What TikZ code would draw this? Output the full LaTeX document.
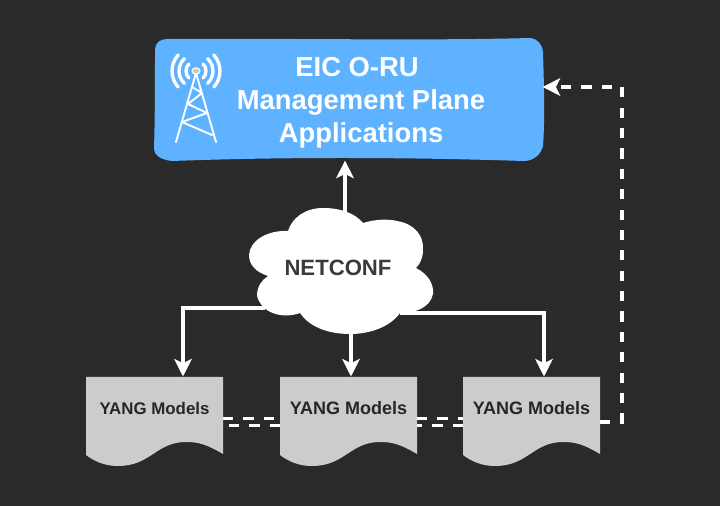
\documentclass[tikz,border=0pt]{standalone}
\usepackage{fontspec}
\setmainfont{Liberation Sans}
\usetikzlibrary{arrows.meta}
\definecolor{backdrop}{HTML}{2A2A2A}
\definecolor{appblue}{HTML}{5FB2FF}
\definecolor{docgray}{HTML}{CCCCCC}
\definecolor{cloudtext}{HTML}{3A3A3A}
\begin{document}
\begin{tikzpicture}[
    x=0.02cm, y=-0.02cm,
    tip/.style={-{Stealth[inset=2.4pt, length=10pt, width=10pt]}},
    link/.style={draw=white, line width=1.8pt, tip},
    dashlink/.style={draw=white, line width=1.8pt, dash pattern=on 5.8pt off 5.8pt},
    apptext/.style={font=\fontsize{15.6}{18.7}\selectfont\bfseries, text=white, align=center},
    hold/.style={inner sep=0pt, minimum width=#1},
    mast/.style={draw=white, line width=1.1pt, line cap=round, line join=round},
    wave/.style={draw=white, line width=1.9pt, line cap=round},
]
\fill[backdrop] (0,0) rectangle (720,506);
\useasboundingbox (0,0) rectangle (720,506);

% application box
\fill[appblue] (167,39) .. controls (280,38) and (420,41) .. (530,38)
    .. controls (538,39) and (542,44) .. (543,52)
    .. controls (544,85) and (545,120) .. (543,146)
    .. controls (541,154) and (534,161) .. (524,161)
    .. controls (400,157) and (280,157) .. (172,161)
    .. controls (162,160) and (154,156) .. (154,148)
    .. controls (155,115) and (155,85) .. (155,50)
    .. controls (155,43) and (160,39) .. (167,39) -- cycle;
\node[hold=388*0.567pt, minimum height=122*0.567pt] (app) at (349,99.5) {};
\node[apptext] (apptitle) at (361,102.5) {EIC O-RU\hspace*{4.5pt}\\Management Plane\\Applications};

% antenna
\draw[mast] (196,73) -- (176,142) (196,73) -- (216,142)
    (192,87) -- (202,93) -- (188,104) -- (207,113) -- (182,122) -- (212,135);
\fill[docgray, draw=white, line width=0.6pt] (196,71) ellipse (4 and 3.2);
\foreach \r/\a in {10/45, 17/47, 24/42} {
    \draw[wave] (196,71) ++(180-\a:\r) arc (180-\a:180+\a:\r);
    \draw[wave] (196,71) ++(-\a:\r) arc (-\a:\a:\r);
}

% cloud
\fill[white] (288,231) .. controls (292,218) and (305,208) .. (323,208)
    .. controls (340,208) and (355,213) .. (363,223)
    .. controls (375,219) and (390,219) .. (397,221)
    .. controls (415,224) and (424,236) .. (423,250)
    .. controls (423,258) and (420,264) .. (416,268)
    .. controls (428,274) and (434,284) .. (433,294)
    .. controls (430,308) and (415,313) .. (400,313)
    .. controls (390,327) and (370,334) .. (350,334)
    .. controls (325,334) and (308,325) .. (300,313)
    .. controls (283,319) and (262,314) .. (257,296)
    .. controls (257,286) and (262,280) .. (268,276)
    .. controls (256,272) and (249,265) .. (249,255)
    .. controls (250,240) and (268,230) .. (288,231) -- cycle;
\node[hold=175*0.567pt, minimum height=122*0.567pt,
      font=\fontsize{12.6}{15}\selectfont\bfseries, text=cloudtext] (netconf) at (338,268) {NETCONF};
\coordinate (netleft) at (265,308);
\coordinate (netright) at (400,313);
\coordinate (netbottom) at (351,334);
\coordinate (nettop) at (345,212);

% documents
\foreach \nm/\lx/\fs in {yangA/86/9.6, yangB/280/10.25, yangC/463/10.25} {
    \fill[docgray] (\lx,377) -- (\lx+137,377) -- (\lx+137,454)
        .. controls (\lx+120,444) and (\lx+112,442) .. (\lx+100,442)
        .. controls (\lx+70,442) and (\lx+65,466) .. (\lx+32,466)
        .. controls (\lx+18,466) and (\lx+8,461) .. (\lx,455) -- cycle;
    \node[hold=137*0.567pt, minimum height=80*0.567pt,
          font=\fontsize{\fs}{12}\selectfont\bfseries, text=black!85] (\nm) at (\lx+68.5,408) {YANG Models};
}

% links
\coordinate (upper) at (0,418.7);
\coordinate (lower) at (0,425.7);
\coordinate (feedback) at (622,422);
\coordinate (turn) at (622,87);
\draw[link] (nettop) -- (app.south -| nettop);
\draw[link] (netleft) -- (183,308) -- (183,376.5);
\draw[link] (netbottom) -- (351,376.5);
\draw[link] (netright) -- (544,313) -- (544,376.5);
\draw[dashlink] (yangA.east |- upper) -- (yangB.west |- upper);
\draw[dashlink] (yangB.west |- lower) -- (yangA.east |- lower);
\draw[dashlink] (yangB.east |- upper) -- (yangC.west |- upper);
\draw[dashlink] (yangC.west |- lower) -- (yangB.east |- lower);
\draw[dashlink, tip] (yangC.east |- feedback) -- (feedback) -- (turn) -- (app.east |- turn);
\end{tikzpicture}
\end{document}
